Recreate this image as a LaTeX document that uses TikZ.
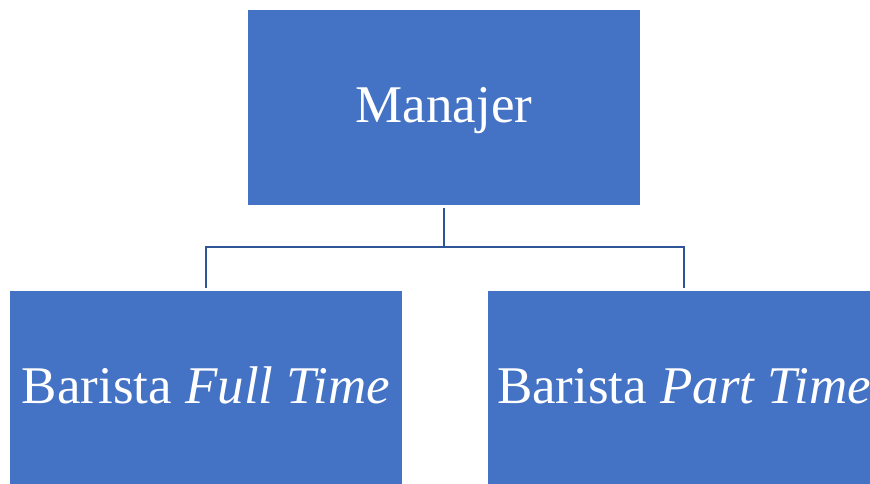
\documentclass[tikz,border=0pt]{standalone}
\usepackage{fontspec}
\setmainfont{Liberation Serif}
\definecolor{boxblue}{HTML}{4472C4}
\definecolor{lineblue}{HTML}{2F5597}
\begin{document}
\begin{tikzpicture}[x=1pt,y=-1pt,
  orgbox/.style={fill=boxblue, draw=none, minimum width=392pt, inner sep=0pt, text=white, font=\fontsize{53}{60}\selectfont},
  link/.style={draw=lineblue, line width=2.7pt}]
\useasboundingbox (0,0) rectangle (870,484);
\clip (0,0) rectangle (870,484);
\node[orgbox, minimum height=195pt, text height=42.5pt, text depth=11.5pt] (mgr) at (444,107.5) {Manajer};
\node[orgbox, minimum height=194pt, text height=36pt, text depth=6pt] (ft) at (206,388) {Barista \textit{Full Time}};
\node[orgbox, minimum height=194pt, text height=36pt, text depth=6pt] (pt) at (684,388) {Barista \textit{Part Time}};
\coordinate (hub) at (444,247);
\draw[link] ([yshift=-3pt]mgr.south) -- (hub);
\draw[link] ([yshift=3pt]ft.north) |- (hub) -| ([yshift=3pt]pt.north);
\end{tikzpicture}
\end{document}
